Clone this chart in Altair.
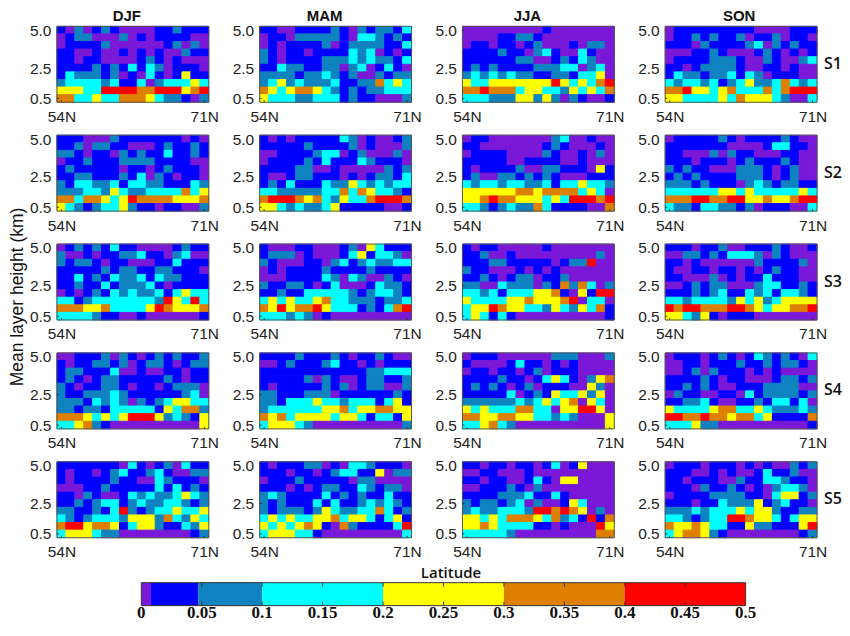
import altair as alt

# Colour class of each cell: rows run from 5.0 km down to 0.5 km, columns 54N to 71N.
DJF_S1 = ["bptpbtbppppbbtbbb","pbttppptpbpbbbbpp","pbbbbtppppppbtptp","bbppbppbpbpbpptbb","bbpbbppppbtbpbppp",
          "bbbbtbtbcbctpbbbp","bctttbtpbpcbpbybb","tcccctcbbcptcccyc","yyyccrrrroorrryor","ooccyccoooycttbpt"]
MAM_S1 = ["bbppbbbbtbptbttbc","pbbptttttbpcctbtb","pbpbbbbtpbttttbbc","tbpbbpbbbbctcpbpb","tbpbbbbtttctcttbc",
          "bbcttbbttptcpbcbp","ttttbttctbtpptbtt","tcytctttcbbttocyc","oycyooyctbtbttccc","ycccttcccbtbbpppt"]
JJA_S1 = ["pppppppppbppppppp","ppppbbttbpppppppp","pbbpbbpbtpppbpttp","bbbbtbbptcbppcbpp","bbbbbbttppbtbctpp",
          "btbtbbbbtttccptcp","tctctcttbbttbccyp","yccyyyyyyyrycycor","oorooocyycctycyco","ccctttyytytptbppb"]
SON_S1 = ["pbbbbbbbbbppppbbb","pbbtbtbbtpbbtpbbp","bbbptbbbbtcptbtbb","pppbbtbpppbtbpbpb","pbbbbtttbpptbpptc",
          "bbpbttttbppbbpbpp","bcttbttcbctpbbbpp","ctcctcbtcyttcoctc","ooryycyocccocorrr","yyccccycoyyyctppc"]

DJF_S2 = ["bbbppptbbbbbbbpbp","bbtpttbbpppbtbbtb","ttbpbbptbtbbcbbtb","pbbtbbbttttbbbbpp","btbbbbbpbbpbtbbbp",
          "bbttbbbtbcptbpbbp","tbccttcbccttbbbct","tttcctycttccccocy","oocooycyrooooyyyo","yctbtccytbbpbbppt"]
MAM_S2 = ["bpbpbbbbbctpbppbt","bbbbbtbbbbtpbpppt","ppbbbbtccpbtppptp","pbbbbtbcbbbctbbbp","bbbbttppbppppptbt",
          "bppbttbbbpbpbttbc","btbcbbbcttyctctcc","cctttttccocoycctb","orrroyoctyccorrro","yyctcttcybbbbbppb"]
JJA_S2 = ["pbbppppppptcppbpp","bbpppppppbtbpppbp","pbbbbpppptbppbptp","bbbbbppbbbbppbppp","bpbbbbtppttbbbpyb",
          "btppttbtbtbpppbbb","ctcctccttcbccycct","yyyyyyooyoooocycp","yyorooyyycycrrror","cctbtcttocbbbbppo"]
SON_S2 = ["pbbbbbtbpbbbbtbpp","bbbbbbbppppbccbbp","bbppptptbbpppbbpp","bbbpbbbpbtbbbtbpp","tbtbbppptttbpbtpp",
          "btbtbbbbtttbpbtpp","tttbtbbbptctbttbb","ccccccyycycccccyc","ooorroorryyoyyorr","cttbccttbtpbbbppc"]

DJF_S3 = ["pbtbtbcbbppppbtbb","tppbpbbttcbbptcpp","tbttbpbbpppbbcbbb","bbbbbtbttbbttbbbp","bbcbtbcttcbcttbbb",
          "bbtbbcbtttcbpbbbb","pbpbtbctcttcbcycc","ccbtccccccctrycrc","oooyyoccccyroyyyo","cccctbbppbppppppb"]
MAM_S3 = ["bpppbbpppbtpycbbb","btttpbpppbcybcctp","tbpppbbptcbtcttcc","pbpbbbbtbbbbtbbbb","pppbbbbctpctpptbp",
          "tbbttbpbcpppbcttb","bbtbbccccctbtcctb","cycyccyocctttbttc","oyryoorycccbtbcor","ccctctpbppppppppp"]
JJA_S3 = ["bpbbpppppbppppppp","bbtppbppppppppptp","bbbttbbbbbpbttrpp","tbbpppbpbpbpppppp","bbtbpbttpbbtppppp",
          "ttppctttptbotocpt","cctcbcccyyobpybrr","yccccyyoyyyorpccp","cyyroyycctyctycob","cycbcbppppppppppb"]
SON_S3 = ["bbbpbbtppbbbtbppb","ppttbtbccctptbppp","bbpbpppppptbbbbtp","bppbbpbbpbpbtbbpp","bbppptpbpbbcbbbpp",
          "ppbtbttppptccbbtb","bbbtbtcbbctcbcctb","cctcccctycytcyyyy","rorrooorroycyyoor","yyctybpbbbppppppp"]

DJF_S4 = ["ppbbbtptbpbtbtbbt","bpbbttbtpbttbpbtt","bttbbbcppbppbbpbb","btbpbttbbbbbtbpbb","tbpbbttbpbbpbtttp",
          "tbbtttctbbbbbbtcp","tttbctctptbtcyycc","ttbttbcccccbycoot","oooycycyrrrytctby","ccyotbppppppppppy"]
MAM_S4 = ["bbbbtbbbtbpbbtbpp","ppbtbbbtcbbpbpbbb","bbbbbbbbbbbbttccc","bbbbbtptbppbttbbt","bpbbbbbtbtpbttppt",
          "ttbbbtttpbbbbbbtb","ttbcccycctcccbcyb","tccccccyyocyyooyy","oyocyyyycyycbccby","cyyyctppppppppppt"]
JJA_S4 = ["pbbbpppppptttpppt","bppppbcbbpbpbpppp","pbbpbbpbtpbbbpppp","bbbbtbbpbcycbptyo","btbtbpbtpbbbppytp",
          "bbbbbcpbtbyccytyp","ttttttctcycyopycp","ycycccooccpyyrryp","ooyyooyycctctpppy","ccyoctppppppppppy"]
SON_S4 = ["pbbbpbtbpbctbtbpc","ppbbpbbbtbbtbttbp","ppbtptbbbpbpbpppp","bbbbtbpbbpppbttbt","bbtbtbppbbbttttpp",
          "ptbbppbbpcbttttbt","bbttcbppbbtbccbcp","yccccyooccyctttct","rroorooyoocybbbbo","cccyttppppppppppb"]

DJF_S5 = ["bbbbbbbpcbpbtpcbb","bpbbpbtcbbtcbpptt","bpbbbbtbbppctbbbp","pppbbtbbbbbcbcbtb","bbptbppbctcttcyct",
          "bbtbtccbtcttcctbt","ttbbtbcrtbtccyccy","ctbtccctyyytoctyc","orryooybcyytbbcty","cyyycttppppppppbt"]
MAM_S5 = ["bpbbbttpbpcctbbbp","bbbpbbpbtccbbyptt","pbbbtbbbbbpttpppp","bbbpbpbttbbctbttp","tctbbbbcbtbtbbcbb",
          "tbtbbbcbcbbtctctb","tbtttbtycttccocbt","cycyccyyocyycbcyb","ycycyoybpotbbbbcr","cyyyccbpppppppppc"]
JJA_S5 = ["bbpbbpbbpbcpbyppp","ppbbpppbppppppppp","bbpbbppbcbpyypppp","ppbbbtbptpppppppp","bbbbtttcbbcbppppp",
          "tbttbtcptppbycppp","tcttccctrroroyptp","yycycoooycotcbrbo","yyoyccccbbpbpppry","ccccctpppppppppoo"]
SON_S5 = ["pbbbpbbbpbpbpptbt","bbbppbpbppbcbbtpp","bbpbbbpptbbcctbbp","bbbptbbtbpbptcctp","pbbbbttttbbpcyybt",
          "bbbpbbctttybtcbbp","tttctcccycyytbbtt","cctbtccrroyycbcyy","oyyoyccbbyttbbbyr","cyooytbppppppppbt"]

SEASONS = ["DJF", "MAM", "JJA", "SON"]
SEASON_LABEL_X = [70, 65, 65, 74]
SETS = ["S1", "S2", "S3", "S4", "S5"]
GRIDS = [[DJF_S1, MAM_S1, JJA_S1, SON_S1], [DJF_S2, MAM_S2, JJA_S2, SON_S2], [DJF_S3, MAM_S3, JJA_S3, SON_S3],
         [DJF_S4, MAM_S4, JJA_S4, SON_S4], [DJF_S5, MAM_S5, JJA_S5, SON_S5]]

CLASS_CODES = list("pbtcyor")
CLASS_VALUES = [0.004, 0.03, 0.075, 0.15, 0.25, 0.35, 0.45]
CLASS_EDGES = [0, 0.008, 0.047, 0.1, 0.2, 0.3, 0.4, 0.5]
CLASS_COLORS = ["#7a18d8", "#0000ff", "#0f82c0", "#00ffff", "#ffff00", "#dd7f00", "#ff0000"]
BAR_TICKS = [0, 0.05, 0.1, 0.15, 0.2, 0.25, 0.3, 0.35, 0.4, 0.45, 0.5]
Y_TICKS = [0.5, 2.5, 5.0]
X_TICKS = [1, 17]

W, H = 152, 76
TICK_FONT = "Liberation Sans"
BOLD_FONT = "Open Sans"
DARK = "#222222"
value_of = dict(zip(CLASS_CODES, CLASS_VALUES))
color_scale = alt.Scale(domain=CLASS_EDGES[1:-1], range=CLASS_COLORS, type="threshold")


def panel(rows, row_i, col_i):
    cells = []
    for r, line in enumerate(rows):
        km = 5.0 - 0.5 * r
        for c, code in enumerate(line):
            cells.append({"col": c + 1, "c0": c + 0.5, "c1": c + 1.5, "k0": km - 0.25, "k1": km + 0.25, "v": value_of[code]})
    xs = alt.Scale(domain=[0.5, 17.5], nice=False, zero=False)
    ys = alt.Scale(domain=[0.25, 5.25], nice=False, zero=False)
    x_axis = alt.Axis(values=X_TICKS, labelExpr="datum.value == 1 ? '54N' : '71N'", domain=False, ticks=False, grid=False,
                      labelFont=TICK_FONT, labelFontSize=15.5, labelColor=DARK, labelPadding=7, labelFlush=False,
                      labelOverlap=False)
    y_axis = alt.Axis(values=Y_TICKS, format=".1f", domain=False, ticks=False, grid=False,
                      labelFont=TICK_FONT, labelFontSize=15.5, labelColor=DARK, labelPadding=6, labelOverlap=False)
    rect = alt.Chart(alt.Data(values=cells)).mark_rect(strokeWidth=1).encode(
        x=alt.X("c0:Q", scale=xs, title=None, axis=x_axis),
        x2="c1:Q",
        y=alt.Y("k0:Q", scale=ys, title=None, axis=y_axis),
        y2="k1:Q",
        color=alt.Color("v:Q", scale=color_scale, legend=None),
        stroke=alt.Stroke("v:Q", scale=color_scale, legend=None),
    )
    frame = alt.Chart(alt.Data(values=[{"a": 0}])).mark_rect(fill=None, stroke="#555555", strokeWidth=1).encode(
        x=alt.value(0), x2=alt.value(W), y=alt.value(0), y2=alt.value(H))
    ytick = alt.Chart(alt.Data(values=[{"t": t} for t in Y_TICKS])).mark_rule(color="#222222", strokeWidth=0.8).encode(
        y=alt.Y("t:Q", scale=ys, title=None, axis=y_axis), x=alt.value(0), x2=alt.value(2))
    xtick = alt.Chart(alt.Data(values=[{"t": t} for t in X_TICKS])).mark_rule(color="#222222", strokeWidth=0.8).encode(
        x=alt.X("t:Q", scale=xs, title=None, axis=x_axis), y=alt.value(H), y2=alt.value(H - 2))
    layers = [rect, frame, ytick, xtick]

    def note(text, x, y, **kw):
        return alt.Chart(alt.Data(values=[{"label": text}])).mark_text(**kw).encode(
            text="label:N", x=alt.value(x), y=alt.value(y))

    if row_i == 0:
        layers.append(note(SEASONS[col_i], SEASON_LABEL_X[col_i], -5, font=TICK_FONT, fontWeight="bold", fontSize=15,
                           color="#111111", align="center", baseline="alphabetic"))
    if col_i == 3:
        layers.append(note(SETS[row_i], 168, H / 2 - 0.5, font=BOLD_FONT, fontWeight=600, fontSize=16,
                           color="#111111", align="center", baseline="middle"))
    if row_i == 2 and col_i == 0:
        layers.append(note("Mean layer height (km)", -38.5, 53, font=TICK_FONT, fontSize=17.5, color="#111111",
                           angle=270, align="center", baseline="middle"))
    return alt.layer(*layers).properties(width=W, height=H)


panels = [panel(GRIDS[r][c], r, c) for r in range(5) for c in range(4)]

# colour bar: flush layout counts only the declared width, so its scale range can extend past it
BAR_TOP, BAR_H = 12, 35
bar_rows = [{"lo": CLASS_EDGES[i], "hi": CLASS_EDGES[i + 1], "v": CLASS_VALUES[i]} for i in range(len(CLASS_VALUES))]
bx = alt.Scale(domain=[0, 0.5], range=[84.5, 689.5], nice=False, zero=False)
bar = alt.Chart(alt.Data(values=bar_rows)).mark_rect().encode(
    x=alt.X("lo:Q", scale=bx, title=None, axis=None),
    x2="hi:Q", y=alt.value(BAR_TOP), y2=alt.value(BAR_H),
    color=alt.Color("v:Q", scale=color_scale, legend=None),
)
bar_frame = alt.Chart(alt.Data(values=[{"lo": CLASS_EDGES[0], "hi": CLASS_EDGES[-1]}])).mark_rect(
    fill=None, stroke="#333333", strokeWidth=1).encode(
    x=alt.X("lo:Q", axis=None), x2="hi:Q", y=alt.value(BAR_TOP), y2=alt.value(BAR_H))
tick_rows = [{"t": t} for t in BAR_TICKS[1:-1]]
bar_top = alt.Chart(alt.Data(values=tick_rows)).mark_rule(color="#333333", strokeWidth=1).encode(
    x=alt.X("t:Q", axis=None), y=alt.value(BAR_TOP), y2=alt.value(BAR_TOP + 4))
bar_bot = alt.Chart(alt.Data(values=tick_rows)).mark_rule(color="#333333", strokeWidth=1).encode(
    x=alt.X("t:Q", axis=None), y=alt.value(BAR_H), y2=alt.value(BAR_H - 4))
bar_labels = alt.Chart(alt.Data(values=[{"t": t} for t in BAR_TICKS])).mark_text(
    font="Liberation Serif", fontWeight="bold", fontSize=17, color="#111111", align="center", baseline="middle").encode(
    x=alt.X("t:Q", axis=None), y=alt.value(BAR_H + 7), text=alt.Text("t:Q", format=".2~f"))
lat = alt.Chart(alt.Data(values=[{"label": "Latitude"}])).mark_text(
    font=BOLD_FONT, fontWeight=600, fontSize=15, color="#111111", align="center", baseline="middle").encode(
    text="label:N", x=alt.value(394.5), y=alt.value(2))
colorbar = alt.layer(bar, bar_frame, bar_top, bar_bot, bar_labels, lat).properties(width=W, height=BAR_H)

chart = alt.concat(*panels, colorbar, columns=4, spacing={"row": 33, "column": 51}, bounds="flush").properties(
    padding={"left": 1, "right": 0, "top": 1, "bottom": 0}, background="white").configure_view(stroke=None)

chart.save("out.html", embed_options={"renderer": "svg", "actions": False})
